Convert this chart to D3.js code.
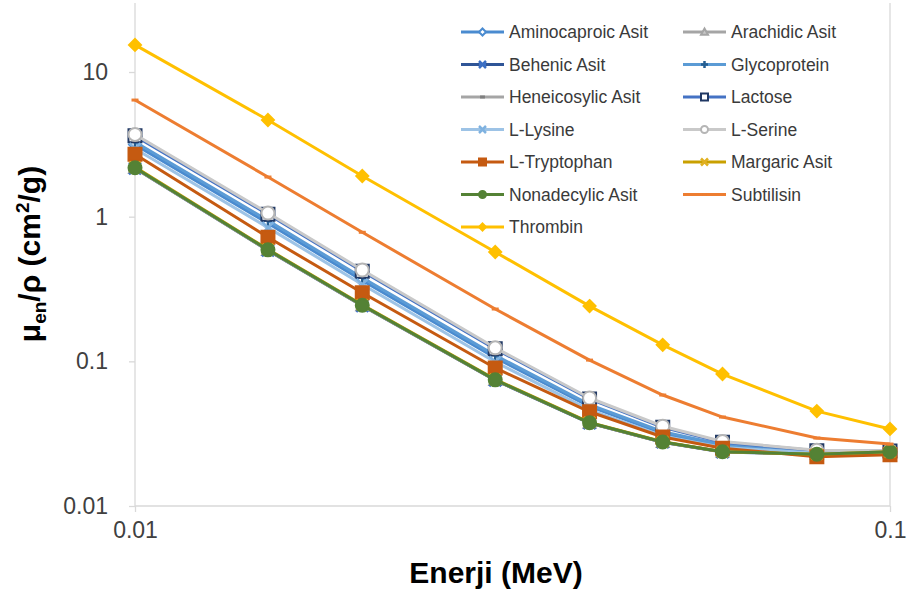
<!DOCTYPE html>
<html><head><meta charset="utf-8">
<script src="https://cdn.jsdelivr.net/npm/d3@7"></script>
<style>body{margin:0;background:#fff;font-family:Arial,"Liberation Sans",sans-serif;}</style>
</head><body><svg id="c" width="911" height="593"></svg>
<script>
const energies = [0.01, 0.015, 0.02, 0.03, 0.04, 0.05, 0.06, 0.08, 0.1];
const seriesNames = ["Aminocaproic Asit","Arachidic Asit","Behenic Asit","Glycoprotein","Heneicosylic Asit","Lactose","L-Lysine","L-Serine","L-Tryptophan","Margaric Asit","Nonadecylic Asit","Subtilisin","Thrombin"];
const aminocaproic = [3.15, 0.90, 0.362, 0.106, 0.0488, 0.0318, 0.0260, 0.0234, 0.0238];
const arachidic    = [2.17, 0.587, 0.243, 0.0742, 0.0375, 0.0276, 0.0237, 0.0228, 0.0237];
const behenic      = [2.16, 0.585, 0.242, 0.0740, 0.0374, 0.0276, 0.0236, 0.0228, 0.0237];
const glycoprotein = [3.28, 0.94, 0.378, 0.110, 0.0502, 0.0326, 0.0265, 0.0237, 0.0239];
const heneicosylic = [2.165, 0.586, 0.2425, 0.0741, 0.0375, 0.0276, 0.0237, 0.0228, 0.0237];
const lactose      = [3.62, 1.04, 0.42, 0.122, 0.055, 0.0350, 0.0276, 0.0241, 0.0240];
const lLysine      = [2.95, 0.84, 0.34, 0.099, 0.0462, 0.0305, 0.0254, 0.0232, 0.0237];
const lSerine      = [3.70, 1.06, 0.428, 0.124, 0.0558, 0.0356, 0.0279, 0.0243, 0.0241];
const lTryptophan  = [2.70, 0.72, 0.298, 0.090, 0.0448, 0.0300, 0.0251, 0.0219, 0.0226];
const margaric     = [2.20, 0.595, 0.246, 0.0750, 0.0378, 0.0278, 0.0237, 0.0228, 0.0237];
const nonadecylic  = [2.18, 0.590, 0.244, 0.0745, 0.0376, 0.0277, 0.0237, 0.0228, 0.0237];
const subtilisin   = [6.4, 1.88, 0.78, 0.23, 0.102, 0.0585, 0.0412, 0.0295, 0.0268];
const thrombin     = [15.4, 4.66, 1.91, 0.57, 0.241, 0.130, 0.0817, 0.0453, 0.0341];
const yTicks = [0.01, 0.1, 1, 10];
const yTickLabels = ["0.01", "0.1", "1", "10"];
const xTicks = [0.01, 0.1];
const xTickLabels = ["0.01", "0.1"];

const seriesValues = [aminocaproic, arachidic, behenic, glycoprotein, heneicosylic, lactose, lLysine, lSerine, lTryptophan, margaric, nonadecylic, subtilisin, thrombin];
const styles = [
  {c:"#4a8bd0", m:"diamond", f:"#fff", s:"#4a8bd0"},
  {c:"#a5a5a5", m:"triangle", f:"#c8c8c8", s:"#a5a5a5"},
  {c:"#2f5597", m:"star", f:"#3b6fc4", s:"#3b6fc4"},
  {c:"#5b9bd5", m:"plus", f:"#255e91", s:"#255e91"},
  {c:"#a5a5a5", m:"dash", f:"#7f7f7f", s:"#7f7f7f"},
  {c:"#4472c4", m:"square", f:"#fff", s:"#203864"},
  {c:"#9dc3e6", m:"x", f:"#7fb2e0", s:"#7fb2e0"},
  {c:"#c9c9c9", m:"circle", f:"#fff", s:"#b5b5b5"},
  {c:"#c55a11", m:"squareFill", f:"#c55a11", s:"#c55a11"},
  {c:"#c9a000", m:"x", f:"#e0b020", s:"#e0b020"},
  {c:"#548235", m:"circleFill", f:"#548235", s:"#548235"},
  {c:"#ed7d31", m:"dash", f:"#ed7d31", s:"#ed7d31"},
  {c:"#ffc000", m:"diamondFill", f:"#ffc000", s:"#ffc000"}
];

const svg = d3.select("#c");
const L = 135, R = 890, T = 3, B = 506;
const x = d3.scaleLog().domain([0.01, 0.1]).range([L, R]);
const y = d3.scaleLog().domain([0.01, 30]).range([B, T]);

const axisColor = "#d9d9d9";
const yAxis = d3.axisLeft(y).tickValues(yTicks).tickFormat((d,i)=>yTickLabels[i]).tickSize(6).tickPadding(21);
const gy = svg.append("g").attr("transform",`translate(${L},0)`).call(yAxis);
const xAxis = d3.axisBottom(x).tickValues(xTicks).tickFormat((d,i)=>xTickLabels[i]).tickSize(6).tickPadding(10);
const gx = svg.append("g").attr("transform",`translate(0,${B})`).call(xAxis);
[gx, gy].forEach(g=>{
  g.select(".domain").attr("stroke",axisColor).attr("stroke-width",1.3);
  g.selectAll(".tick line").attr("stroke",axisColor).attr("stroke-width",1.3);
  g.selectAll(".tick text").attr("fill","#404040").attr("font-size",23).attr("font-family","Arial, 'Liberation Sans', sans-serif");
});
gy.select(".domain").attr("d",`M0,${T}V${B}`);
gx.select(".domain").attr("d",`M${L},0H${R}`);
svg.append("line").attr("x1",x(0.1)).attr("x2",x(0.1)).attr("y1",T).attr("y2",B).attr("stroke",axisColor).attr("stroke-width",1.3);

function markerPath(type, size){
  const h = size/2;
  switch(type){
    case "diamond": case "diamondFill": return `M0,${-h}L${h},0L0,${h}L${-h},0Z`;
    case "triangle": return `M0,${-h}L${h},${h*0.8}L${-h},${h*0.8}Z`;
    case "square": case "squareFill": return `M${-h},${-h}H${h}V${h}H${-h}Z`;
    case "circle": case "circleFill": return d3.symbol(d3.symbolCircle, Math.PI*h*h)();
    case "plus": return `M${-h},0H${h}M0,${-h}V${h}`;
    case "x": return `M${-h},${-h}L${h},${h}M${-h},${h}L${h},${-h}`;
    case "star": return `M${-h},${-h}L${h},${h}M${-h},${h}L${h},${-h}M${-h},0H${h}`;
    case "dash": return `M${-h*0.7},0H${h*0.7}`;
  }
}
function drawMarker(g, st, size){
  const p = g.append("path").attr("d", markerPath(st.m, size));
  if (["plus","x","star","dash"].includes(st.m)) {
    p.attr("fill","none").attr("stroke",st.s).attr("stroke-width", st.m==="dash"?3:2.5);
  } else {
    p.attr("fill",st.f).attr("stroke",st.s).attr("stroke-width",2);
  }
}

const line = d3.line().x((d,i)=>x(energies[i])).y(d=>y(d));
const plot = svg.append("g");
const markerSize = {diamond:12, diamondFill:12, triangle:12, square:13, squareFill:13, circle:13, circleFill:13, plus:11, x:11, star:12, dash:10};
seriesValues.forEach((vals, si)=>{
  const st = styles[si];
  const g = plot.append("g");
  g.append("path").datum(vals).attr("d", line).attr("fill","none").attr("stroke", st.c).attr("stroke-width",3).attr("stroke-linejoin","round");
  vals.forEach((v,i)=>{
    const mg = g.append("g").attr("transform",`translate(${x(energies[i])},${y(v)})`);
    drawMarker(mg, st, markerSize[st.m]);
  });
});

const leg = svg.append("g");
const col1x = 461, col2x = 683, row0 = 32, rowH = 32.5;
seriesNames.forEach((name, i)=>{
  const st = styles[i];
  const cx = (i%2===0) ? col1x : col2x;
  const cy = row0 + Math.floor(i/2)*rowH;
  const g = leg.append("g").attr("transform",`translate(${cx},${cy})`);
  g.append("line").attr("x1",0).attr("x2",43).attr("y1",0).attr("y2",0).attr("stroke",st.c).attr("stroke-width",3);
  const mg = g.append("g").attr("transform","translate(21.5,0)");
  drawMarker(mg, st, 7);
  g.append("text").attr("x",48).attr("y",0).attr("dy","0.35em").attr("font-size",17.5).attr("fill","#3a3a3a").text(name);
});

svg.append("text").attr("x",496).attr("y",583).attr("text-anchor","middle").attr("font-size",30).attr("font-weight","bold").attr("fill","#000").text("Enerji (MeV)");
const yt = svg.append("text").attr("transform","translate(40,254) rotate(-90)").attr("text-anchor","middle").attr("font-size",30).attr("font-weight","bold").attr("fill","#000");
yt.append("tspan").text("μ");
yt.append("tspan").attr("font-size",19).attr("dy",6).text("en");
yt.append("tspan").attr("dy",-6).text("/ρ (cm");
yt.append("tspan").attr("font-size",19).attr("dy",-11).text("2");
yt.append("tspan").attr("dy",11).text("/g)");
</script></body></html>
